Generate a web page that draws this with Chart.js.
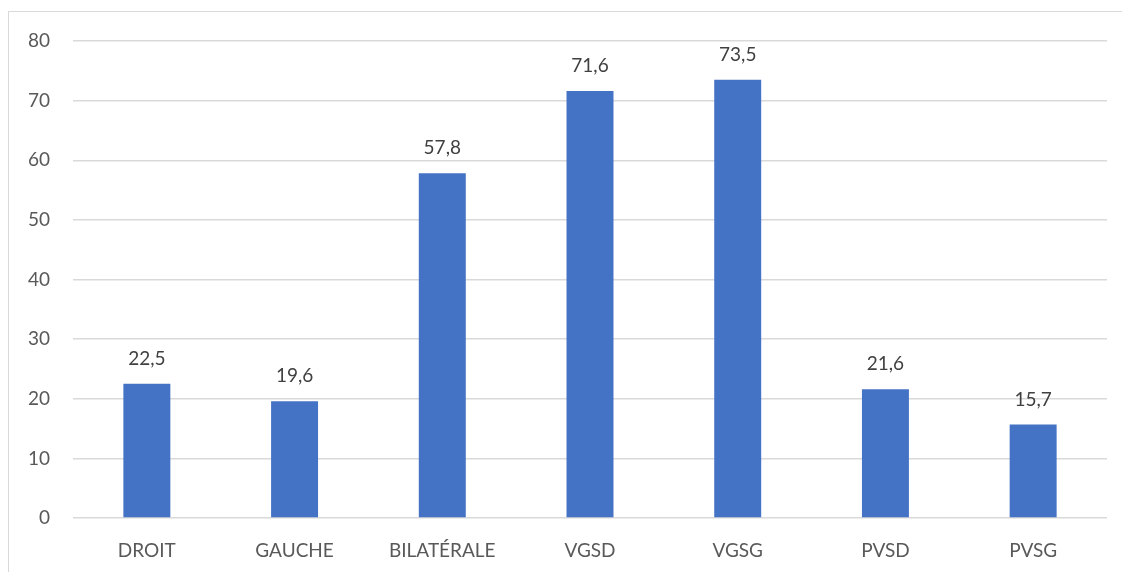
<!DOCTYPE html>
<html>
<head>
<meta charset="utf-8">
<script src="https://cdn.jsdelivr.net/npm/chart.js@4"></script>
<style>
  body { margin: 0; background: #fff; }
  #frame {
    position: absolute; left: 8px; top: 11px; width: 1120px; height: 570px;
    border-left: 1px solid #d9d9d9; border-top: 1px solid #d9d9d9;
  }
  #box { position: absolute; left: 0; top: 0; width: 1113px; height: 560px; }
</style>
</head>
<body>
<div id="frame"><div id="box"><canvas id="myChart"></canvas></div></div>
<script>
"use strict";

const categories = ["DROIT", "GAUCHE", "BILATÉRALE", "VGSD", "VGSG", "PVSD", "PVSG"];
const values = [22.5, 19.6, 57.8, 71.6, 73.5, 21.6, 15.7];
const yTicks = [0, 10, 20, 30, 40, 50, 60, 70, 80];

const fontFamily = "Lato, 'Open Sans', sans-serif";
const fontSize = 19;

// draws the value above each bar, with a comma as decimal mark
const valueLabels = {
  id: "valueLabels",
  afterDatasetsDraw(chart) {
    const ctx = chart.ctx;
    const meta = chart.getDatasetMeta(0);
    ctx.save();
    ctx.font = fontSize + "px " + fontFamily;
    ctx.fillStyle = "#404040";
    ctx.textAlign = "center";
    ctx.textBaseline = "middle";
    meta.data.forEach(function (bar, i) {
      const txt = values[i].toFixed(1).replace(".", ",");
      ctx.fillText(txt, bar.x, bar.y - 25);
    });
    ctx.restore();
  },
};

const ctx = document.getElementById("myChart");

new Chart(ctx, {
  type: "bar",
  data: {
    labels: categories,
    datasets: [
      {
        data: values,
        backgroundColor: "#4472C4",
        borderWidth: 0,
        categoryPercentage: 1,
        barPercentage: 0.318,
      },
    ],
  },
  options: {
    responsive: true,
    maintainAspectRatio: false,
    animation: false,
    layout: { padding: { top: 0, right: 15, left: 0, bottom: 0 } },
    plugins: {
      legend: { display: false },
      tooltip: { enabled: false },
    },
    scales: {
      x: {
        grid: { display: false, drawTicks: false },
        border: { display: false },
        ticks: {
          color: "#595959",
          font: { family: fontFamily, size: fontSize },
          padding: 21,
          maxRotation: 0,
        },
        afterFit(scale) {
          scale.height = 54;
        },
      },
      y: {
        min: 0,
        max: 80,
        afterBuildTicks(scale) {
          scale.ticks = yTicks.map(function (v) { return { value: v }; });
        },
        grid: { color: "#d9d9d9", lineWidth: 1.5, drawTicks: false },
        border: { display: false },
        ticks: {
          color: "#595959",
          font: { family: fontFamily, size: fontSize },
          padding: 23,
        },
        afterFit(scale) {
          // fixed axis box so the plot area lines up with the picture
          scale.width = 64;
          scale.paddingTop = 29;
          scale.paddingBottom = 0;
        },
      },
    },
  },
  plugins: [valueLabels],
});
</script>
</body>
</html>
